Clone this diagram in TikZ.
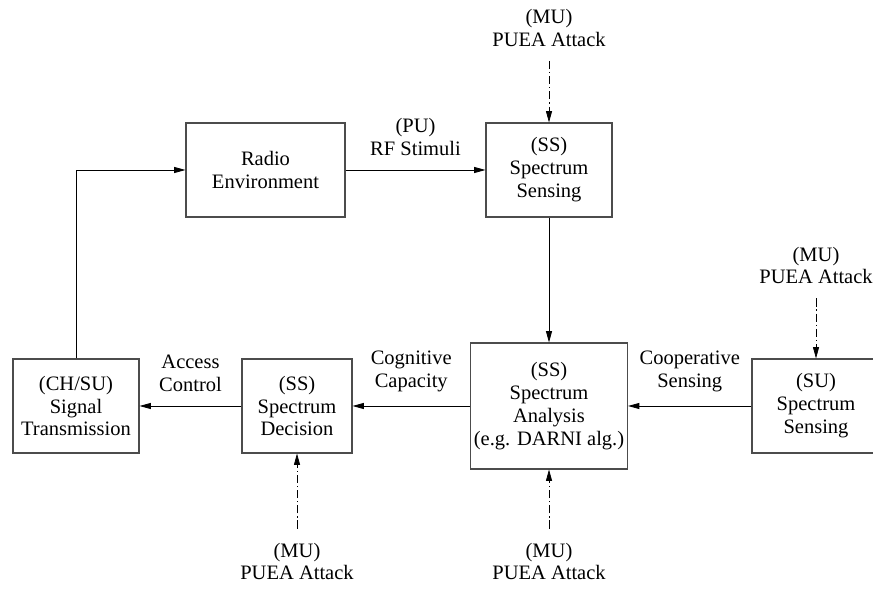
\documentclass[tikz,border=0pt]{standalone}
\usepackage{fontspec}
\setmainfont{Liberation Serif}
\usetikzlibrary{
  arrows.meta,
  positioning
}

\begin{document}
\begin{tikzpicture}[
  font=\fontsize{17.5}{19.6}\selectfont,
  block/.style={draw=black!70, line width=0.9pt, align=center,
    minimum height=2.82cm, inner sep=2pt},
  flow/.style={-{Triangle[length=3.4mm,width=1.8mm]}, line width=0.7pt},
  attack/.style={-{Triangle[length=3.4mm,width=1.8mm]}, line width=0.6pt,
    dash pattern=on 7pt off 2.5pt on 1pt off 2.5pt, shorten <=3mm},
  lbl/.style={midway, above=3mm, align=center}
]
  \clip (0,0) rectangle (26.19,17.64);

  \node[block, minimum width=4.77cm] (env) at (7.965,12.54) {Radio\\Environment};
  \node[block, minimum width=3.78cm] (sense) at (16.47,12.54) {(SS)\\Spectrum\\Sensing};
  \node[block, minimum width=4.71cm, minimum height=3.78cm] (analysis) at (16.47,5.46)
    {(SS)\\Spectrum\\Analysis\\(e.g. DARNI alg.)};
  \node[block, minimum width=3.3cm] (decision) at (8.91,5.46) {(SS)\\Spectrum\\Decision};
  \node[block, minimum width=3.78cm] (trans) at (2.28,5.46) {(CH/SU)\\Signal\\Transmission};
  \node[block, minimum width=3.84cm] (susense) at (24.48,5.46) {(SU)\\Spectrum\\Sensing};

  % attack sources
  \node[align=center] (mutop) at (16.47,16.8) {(MU)\\PUEA Attack};
  \node[align=center] (muright) at (24.48,9.675) {(MU)\\PUEA Attack};
  \node[align=center] (mudec) at (8.91,0.795) {(MU)\\PUEA Attack};
  \node[align=center] (muana) at (16.47,0.795) {(MU)\\PUEA Attack};

  \draw[flow] (env) -- node[lbl] {(PU)\\RF Stimuli} (sense);
  \draw[flow] (sense) -- (analysis);
  \draw[flow] (analysis) -- node[lbl] {Cognitive\\Capacity} (decision);
  \draw[flow] (decision) -- node[lbl] {Access\\Control} (trans);
  \draw[flow] (susense) -- node[lbl] {Cooperative\\Sensing} (analysis);
  \draw[flow] (trans.north) |- (env.west);

  \draw[attack] (mutop) -- (sense);
  \draw[attack] (muright) -- (susense);
  \draw[attack] (mudec) -- (decision);
  \draw[attack] (muana) -- (analysis);
\end{tikzpicture}
\end{document}
